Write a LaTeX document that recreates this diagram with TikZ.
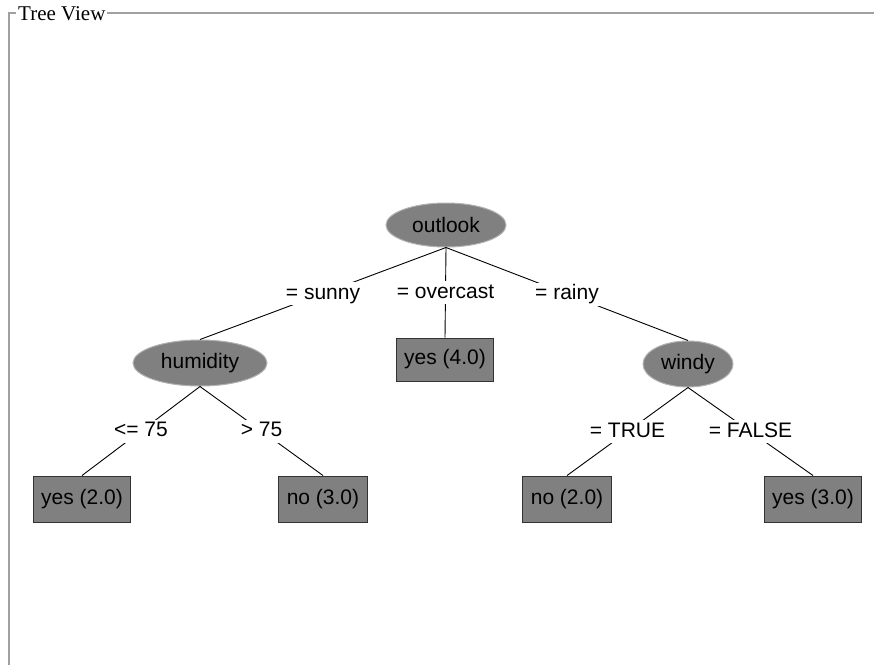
\documentclass[tikz,border=0pt]{standalone}
\usepackage{fontspec}
\setmainfont{Liberation Sans}
\newfontfamily\titlefont{Liberation Serif}
\usetikzlibrary{shapes.geometric}

\definecolor{treegray}{RGB}{128,128,128}
\definecolor{framegray}{RGB}{160,160,160}

\begin{document}
\begin{tikzpicture}[x=1pt, y=-1pt,
		font={\fontsize{21}{25}\selectfont},
		split/.style={ellipse, fill=treegray, draw=gray!60, line width=1pt, inner sep=0pt},
		leaf/.style={rectangle, fill=treegray, draw=gray!40!black, line width=1pt, minimum height=46pt, inner xsep=8pt, inner ysep=0pt},
		cond/.style={fill=white, inner xsep=3pt, inner ysep=2pt, text height=15pt, text depth=4pt},
		edge/.style={black, line width=0.9pt}]

		% canvas
		\fill[white] (0,0) rectangle (874,665);
		\useasboundingbox (0,0) rectangle (874,665);

		% panel frame with its title
		\coordinate (framebottom) at (9,665);
		\coordinate (frameright) at (874,13);
		\draw[framegray, line width=1.5pt] (framebottom) |- (frameright);
		\node[fill=white, inner xsep=2pt, inner ysep=0pt, anchor=west, font={\titlefont\fontsize{21}{24}\selectfont}] (title) at (16,14) {Tree View};

		% decision nodes
		\node[split, minimum width=120pt, minimum height=44pt] (outlook) at (446,225) {outlook};
		\node[split, minimum width=134pt, minimum height=46pt] (humidity) at (200,363) {humidity};
		\node[split, minimum width=90pt, minimum height=46pt] (windy) at (688,364) {windy};

		% leaves
		\node[leaf, minimum height=43pt] (yesfour) at (445,359.5) {yes (4.0)};
		\node[leaf] (yestwo) at (82,499) {yes (2.0)};
		\node[leaf] (nothree) at (323,499) {no (3.0)};
		\node[leaf] (notwo) at (567,499) {no (2.0)};
		\node[leaf] (yesthree) at (813,499) {yes (3.0)};

		% branches
		\draw[edge] (outlook.south) -- node[cond] (sunny) {= sunny} (humidity.north);
		\draw[edge] (outlook.south) -- node[cond] (overcast) {= overcast} (yesfour.north);
		\draw[edge] (outlook.south) -- node[cond] (rainy) {= rainy} (windy.north);

		\draw[edge] (humidity.south) -- node[cond] (low) {<= 75} (yestwo.north);
		\draw[edge] (humidity.south) -- node[cond] (high) {> 75} (nothree.north);

		\draw[edge] (windy.south) -- node[cond] (windtrue) {= TRUE} (notwo.north);
		\draw[edge] (windy.south) -- node[cond] (windfalse) {= FALSE} (yesthree.north);
	\end{tikzpicture}
\end{document}
